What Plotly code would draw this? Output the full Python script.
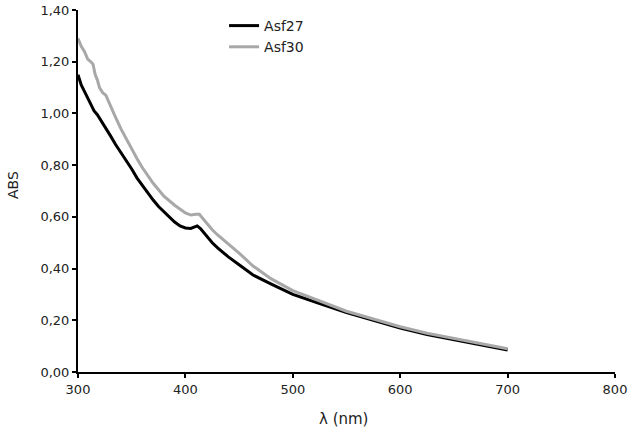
import plotly.graph_objects as go

# Asf27 spectrum (black)
wl_27 = [300, 303, 306, 309, 312, 315, 318, 321, 324, 327, 330, 335, 340, 345, 350,
         355, 360, 365, 370, 375, 380, 385, 390, 395, 400, 405, 408, 411, 414, 417,
         420, 425, 430, 440, 450, 463, 480, 500, 525, 550, 575, 600, 625, 650, 675, 700]
abs_27 = [1.15, 1.11, 1.085, 1.06, 1.035, 1.01, 0.995, 0.975, 0.96, 0.935, 0.915, 0.88,
          0.85, 0.815, 0.785, 0.75, 0.72, 0.69, 0.665, 0.64, 0.62, 0.60, 0.58, 0.565,
          0.557, 0.555, 0.56, 0.565, 0.555, 0.54, 0.525, 0.50, 0.48, 0.445, 0.415, 0.375,
          0.34, 0.30, 0.265, 0.23, 0.20, 0.17, 0.145, 0.125, 0.105, 0.085]

# Asf30 spectrum (grey)
wl_30 = [300, 303, 306, 309, 312, 314, 316, 318, 320, 323, 326, 330, 335, 340, 345, 350,
         355, 360, 370, 380, 390, 400, 405, 410, 413, 417, 420, 425, 430, 440, 450, 463,
         480, 500, 525, 550, 575, 600, 625, 650, 675, 700]
abs_30 = [1.29, 1.26, 1.24, 1.21, 1.20, 1.19, 1.15, 1.13, 1.10, 1.08, 1.07, 1.03, 0.985,
          0.94, 0.9, 0.86, 0.825, 0.79, 0.73, 0.68, 0.645, 0.615, 0.607, 0.61, 0.61, 0.59,
          0.575, 0.55, 0.53, 0.495, 0.46, 0.41, 0.36, 0.315, 0.275, 0.235, 0.205, 0.175,
          0.15, 0.13, 0.11, 0.09]

fig = go.Figure()
fig.add_trace(go.Scatter(x=wl_27, y=abs_27, mode='lines', name='Asf27',
                         line=dict(color='#000000', width=3)))
fig.add_trace(go.Scatter(x=wl_30, y=abs_30, mode='lines', name='Asf30',
                         line=dict(color='#a8a8a8', width=3)))

axis_style = dict(showline=True, linecolor='#000000', linewidth=2, ticks='outside',
                  ticklen=4, tickwidth=2, tickcolor='#000000', showgrid=False,
                  zeroline=False, automargin=False,
                  tickfont=dict(family='DejaVu Sans', size=13, color='#222222'))

fig.update_layout(
    width=632, height=436,
    margin=dict(l=78, r=17, t=10, b=64),
    plot_bgcolor='white', paper_bgcolor='white',
    separators=',.',
    font=dict(family='DejaVu Sans', size=13, color='#222222'),
    xaxis=dict(range=[300, 800], dtick=100, **axis_style),
    yaxis=dict(range=[0, 1.4], dtick=0.2, tickformat='.2f', **axis_style),
    legend=dict(x=0.272, y=1.0, xanchor='left', yanchor='top', bgcolor='rgba(0,0,0,0)',
                font=dict(family='DejaVu Sans', size=14, color='#222222'),
                itemwidth=30, tracegroupgap=0),
    showlegend=True,
)

# axis titles
fig.add_annotation(text='λ (nm)', x=0.5, y=0, xref='paper', yref='paper',
                   xanchor='center', yanchor='middle', yshift=-47, xshift=-3, showarrow=False,
                   font=dict(family='DejaVu Sans', size=15, color='#222222'))
fig.add_annotation(text='ABS', x=0, y=0.5, xref='paper', yref='paper', textangle=-90,
                   xanchor='center', yanchor='middle', xshift=-65, yshift=6, showarrow=False,
                   font=dict(family='DejaVu Sans', size=14, color='#222222'))

# drop the default 8px body margin so the figure fills the window
fig.write_html("out.html", config={'displayModeBar': False},
               post_script="document.body.style.margin='0px';")
